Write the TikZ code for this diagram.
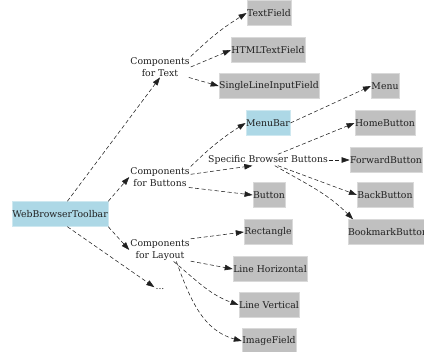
\documentclass[tikz,border=0pt]{standalone}
\usepackage{fontspec}
\setmainfont{DejaVu Serif}
\usepackage{xcolor}
\usepackage{tikz}
\usetikzlibrary{arrows.meta,positioning}
\definecolor{silverbox}{HTML}{C0C0C0}
\definecolor{bluebox}{HTML}{ADD8E6}
\definecolor{inkblack}{HTML}{202020}
\tikzset{
  tbox/.style={fill=silverbox, draw=silverbox!60!white, line width=0.4pt, font=\fontsize{9.3}{11}\selectfont, inner xsep=0.3pt, minimum height=25pt, text=inkblack},
  tboxaccent/.style={tbox, fill=bluebox, draw=bluebox!60!white},
  tgroup/.style={font=\fontsize{9.3}{11.5}\selectfont, align=center, inner sep=1pt, text=inkblack},
  tarrow/.style={-{Triangle[length=8pt,width=5.5pt]}, dash pattern=on 4pt off 2.5pt, line width=0.55pt, inkblack},
}
\begin{document}
\begin{tikzpicture}[x=1pt, y=-1pt]
  \useasboundingbox (0,0) rectangle (424,352);
  % root
  \node[tboxaccent] (toolbar) at (60,214) {WebBrowserToolbar};
  % component groups
  \node[tgroup] (ctext) at (160,67) {Components\\for Text};
  \node[tgroup] (cbuttons) at (160,177) {Components\\for Buttons};
  \node[tgroup] (clayout) at (160,250) {Components\\for Layout};
  \node[tgroup] (more) at (160,289) {...};
  % text widgets
  \node[tbox] (textfield) at (269,13) {TextField};
  \node[tbox] (htmlfield) at (268,50) {HTMLTextField};
  \node[tbox] (singleline) at (269,86) {SingleLineInputField};
  % buttons
  \node[tboxaccent] (menubar) at (268,123) {MenuBar};
  \node[tbox] (menu) at (385,86) {Menu};
  \node[tgroup] (specific) at (268,160) {Specific Browser Buttons};
  \node[tbox] (button) at (269,195) {Button};
  \node[tbox] (home) at (385,123) {HomeButton};
  \node[tbox] (forward) at (386,160) {ForwardButton};
  \node[tbox] (back) at (385,195) {BackButton};
  \node[tbox] (bookmark) at (388,232) {BookmarkButton};
  % layout widgets
  \node[tbox] (rect) at (268,232) {Rectangle};
  \node[tbox] (lineh) at (270,269) {Line Horizontal};
  \node[tbox] (linev) at (269,305) {Line Vertical};
  \node[tbox] (image) at (269,341) {ImageField};
  % arrows
  \draw[tarrow] (toolbar.60) -- (ctext.south);
  \draw[tarrow] (toolbar.north east) -- (cbuttons.west);
  \draw[tarrow] (toolbar.south east) -- (clayout.west);
  \draw[tarrow] (toolbar.-60) -- (more.north west);
  \draw[tarrow] (ctext.north east) to[bend left=6] (textfield.west);
  \draw[tarrow] (ctext.east) -- (htmlfield.west);
  \draw[tarrow] (ctext.-20) -- (singleline.west);
  \draw[tarrow] (cbuttons.north east) to[bend left=6] (menubar.west);
  \draw[tarrow] (cbuttons.5) -- (specific.-160);
  \draw[tarrow] (cbuttons.-20) -- (button.west);
  \draw[tarrow] (menubar.east) -- (menu.west);
  \draw[tarrow] (specific.30) -- (home.west);
  \draw[tarrow] (specific.east) -- (forward.west);
  \draw[tarrow] (specific.-30) -- (back.west);
  \draw[tarrow] (specific.-40) to[out=-30, in=135] (bookmark.160);
  \draw[tarrow] (clayout.20) -- (rect.west);
  \draw[tarrow] (clayout.-20) -- (lineh.west);
  \draw[tarrow] (clayout.-40) to[out=-40, in=160] (linev.west);
  \draw[tarrow] (clayout.-35) to[out=-70, in=165] (image.west);
\end{tikzpicture}
\end{document}
